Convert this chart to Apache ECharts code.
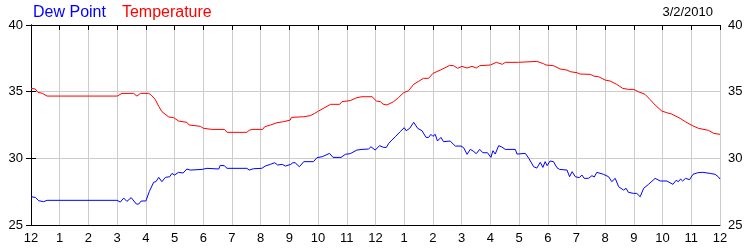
<!DOCTYPE html>
<html>
<head>
<meta charset="utf-8">
<script src="https://cdn.jsdelivr.net/npm/echarts@6/dist/echarts.min.js"></script>
<style>html,body{margin:0;padding:0;background:#fff}#c{width:750px;height:250px}</style>
</head>
<body>
<div id="c"></div>
<script>
// hours since midnight
const tempTimes = [0,0.15,0.24,0.4,0.56,3.0,3.17,3.57,3.69,3.81,4.1,4.21,4.33,4.45,4.56,4.8,4.97,5.14,5.43,5.51,5.9,6.01,6.3,6.74,6.83,7.52,7.6,7.7,8.07,8.14,8.34,8.57,8.8,9.03,9.07,9.5,9.73,9.88,10.02,10.43,10.75,10.83,11.12,11.35,11.53,11.88,12.03,12.17,12.26,12.4,12.63,12.8,12.98,13.15,13.33,13.67,13.85,14.0,14.26,14.58,14.72,14.86,15.01,15.19,15.36,15.51,15.63,16.0,16.21,16.42,16.52,16.98,17.04,17.62,17.68,17.85,17.94,18.2,18.43,18.67,18.78,19.02,19.13,19.48,19.6,19.77,20.0,20.17,20.4,20.61,20.81,21.0,21.15,21.39,21.56,21.74,21.97,22.15,22.32,22.61,22.79,23.02,23.25,23.6,23.78,24.0];
const tempValues = [35.25,35.2,34.95,34.87,34.67,34.67,34.87,34.87,34.67,34.87,34.87,34.7,34.4,33.9,33.5,33.1,33.05,32.8,32.7,32.5,32.4,32.25,32.17,32.17,31.95,31.95,32.1,32.17,32.17,32.37,32.5,32.67,32.75,32.87,33.07,33.12,33.2,33.37,33.55,34.05,34.05,34.25,34.33,34.55,34.62,34.62,34.3,34.25,34.07,34.0,34.25,34.55,34.92,35.07,35.55,36.0,36.0,36.37,36.62,36.97,36.95,36.75,36.9,36.77,36.9,36.77,36.95,37.0,37.2,37.05,37.2,37.2,37.27,37.27,37.2,37.1,37.0,36.95,36.7,36.62,36.5,36.42,36.32,36.3,36.17,36.12,35.87,35.8,35.55,35.25,35.17,35.17,35.0,34.8,34.42,34.0,33.55,33.42,33.32,33.0,32.75,32.47,32.25,32.1,31.87,31.8];
const dewTimes = [0,0.15,0.27,0.44,0.56,3.0,3.11,3.23,3.34,3.49,3.67,3.75,3.84,4.0,4.12,4.27,4.35,4.45,4.56,4.68,4.83,4.91,5.0,5.14,5.3,5.43,5.55,5.96,6.13,6.54,6.59,6.73,6.83,7.52,7.6,7.75,8.04,8.16,8.34,8.49,8.59,8.75,8.86,9.05,9.12,9.2,9.35,9.5,9.84,9.96,10.14,10.2,10.4,10.52,10.8,10.95,11.12,11.35,11.53,11.76,11.84,11.99,12.14,12.28,12.38,12.46,12.57,12.69,12.86,13.0,13.07,13.19,13.33,13.47,13.62,13.76,13.85,13.93,14.0,14.08,14.16,14.28,14.37,14.6,14.78,14.98,15.07,15.19,15.3,15.4,15.51,15.63,15.74,15.9,16.02,16.09,16.17,16.29,16.4,16.52,16.87,16.93,17.22,17.34,17.51,17.62,17.74,17.83,17.91,17.98,18.08,18.2,18.32,18.41,18.67,18.76,18.85,18.96,19.1,19.19,19.27,19.42,19.54,19.62,19.71,19.94,20.12,20.23,20.35,20.47,20.64,20.73,20.81,20.99,21.1,21.22,21.34,21.51,21.74,21.92,22.15,22.36,22.47,22.55,22.63,22.7,22.8,22.94,23.06,23.22,23.4,23.66,23.83,23.94,24.0];
const dewValues = [27.12,27.07,26.82,26.75,26.85,26.85,26.72,27.02,26.77,27.05,26.57,26.57,26.8,26.8,27.5,28.2,28.25,28.57,28.25,28.57,28.62,28.87,28.75,28.95,28.9,29.2,29.12,29.17,29.25,29.2,29.47,29.45,29.25,29.25,29.12,29.22,29.25,29.42,29.55,29.67,29.5,29.55,29.42,29.55,29.67,29.67,29.37,29.75,29.75,30.05,30.12,30.07,30.37,30.07,30.07,30.3,30.35,30.62,30.67,30.7,30.87,30.62,30.95,30.82,30.82,31.12,31.37,31.62,32.0,32.3,32.07,32.25,32.7,32.25,32.07,31.57,31.57,31.8,31.65,31.8,31.3,31.57,31.25,31.3,30.92,30.92,30.8,30.3,30.67,30.55,30.35,30.67,30.42,30.42,30.07,30.57,30.32,30.95,30.85,30.67,30.67,30.32,30.37,30.0,29.37,29.27,29.7,29.32,29.75,29.45,29.8,29.75,29.3,29.17,29.12,28.62,29.0,28.62,28.55,28.75,28.5,28.5,28.7,28.6,28.95,28.8,28.62,28.25,28.5,27.87,27.62,27.75,27.45,27.37,27.37,27.12,27.75,28.05,28.5,28.3,28.3,28.05,28.35,28.25,28.45,28.3,28.5,28.4,28.8,28.92,28.95,28.87,28.8,28.62,28.45];
const xTickLabels = ['12','1','2','3','4','5','6','7','8','9','10','11','12','1','2','3','4','5','6','7','8','9','10','11','12'];
const yTicks = [25,30,35,40];
const dateLabel = '3/2/2010';

const zip = (t, v) => t.map((x, i) => [x, v[i]]);
const FONT = 'Liberation Sans, Arial, sans-serif';
const chart = echarts.init(document.getElementById('c'), null, {renderer: 'canvas'});
const yAxisBase = {
  type: 'value', min: yTicks[0], max: yTicks[yTicks.length - 1], interval: 5,
  axisLine: {show: true, lineStyle: {color: '#000', width: 1}},
  axisTick: {show: true, inside: true, length: 5, lineStyle: {color: '#000'}},
  axisLabel: {color: '#000', fontSize: 13, fontFamily: FONT, margin: 8},
  splitLine: {show: true, lineStyle: {color: '#cccccc', width: 1}}
};
chart.setOption({
  animation: false,
  backgroundColor: '#fff',
  legend: {
    data: [
      {name: 'Dew Point', textStyle: {color: '#0000ff'}},
      {name: 'Temperature', textStyle: {color: '#ff0000'}}
    ],
    icon: 'none', itemWidth: 0, itemGap: 11,
    left: 23, top: 0,
    textStyle: {fontSize: 16, fontFamily: FONT}
  },
  title: {
    text: dateLabel, right: 32, top: 1,
    textStyle: {fontSize: 13, fontWeight: 'normal', color: '#000', fontFamily: FONT}
  },
  grid: {left: 31, right: 30, top: 25, bottom: 25, containLabel: false},
  xAxis: [
    {
      type: 'value', min: 0, max: 24, interval: 1, position: 'bottom',
      axisLine: {show: true, onZero: false, lineStyle: {color: '#000', width: 1}},
      axisTick: {show: false},
      axisLabel: {color: '#000', fontSize: 13, fontFamily: FONT, margin: 7,
        formatter: v => xTickLabels[Math.round(v)]},
      splitLine: {show: true, lineStyle: {color: '#cccccc', width: 1}}
    },
    {
      type: 'value', min: 0, max: 24, interval: 1, position: 'top',
      axisLine: {show: true, onZero: false, lineStyle: {color: '#000', width: 1}},
      axisTick: {show: true, inside: true, length: 5, lineStyle: {color: '#000'}},
      axisLabel: {show: false},
      splitLine: {show: false}
    }
  ],
  yAxis: [
    Object.assign({}, yAxisBase, {position: 'left'}),
    Object.assign({}, yAxisBase, {position: 'right', splitLine: {show: false}})
  ],
  series: [
    {
      name: 'Dew Point', type: 'line', data: zip(dewTimes, dewValues),
      showSymbol: false, symbol: 'none', color: '#0000ff',
      lineStyle: {color: '#0000ff', width: 1}, z: 3
    },
    {
      name: 'Temperature', type: 'line', data: zip(tempTimes, tempValues),
      showSymbol: false, symbol: 'none', color: '#ff0000',
      lineStyle: {color: '#ff0000', width: 1}, z: 3
    }
  ]
});
</script>
</body>
</html>
